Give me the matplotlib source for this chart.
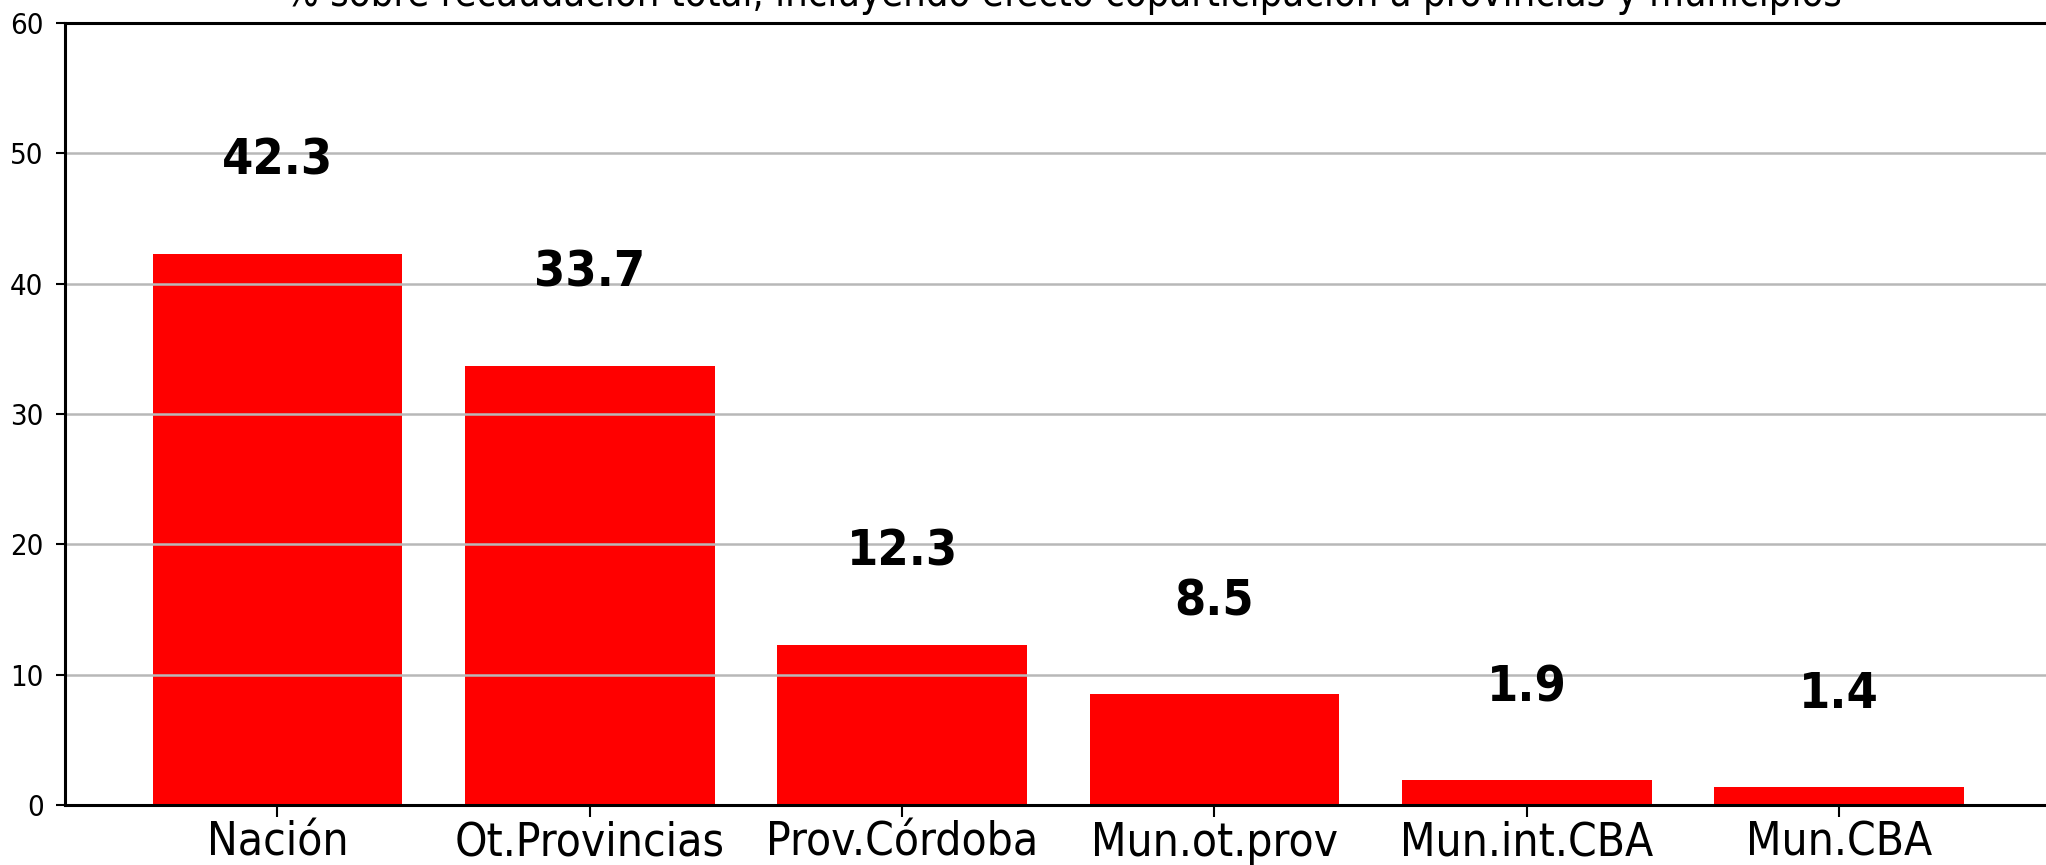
#!/usr/bin/env python3
"""Distribución de la recaudación por nivel de gobierno."""

import matplotlib
matplotlib.use('Agg')
import matplotlib.pyplot as plt

# =============================================================================
# Data
# =============================================================================
niveles = ['Nación', 'Ot.Provincias', 'Prov.Córdoba', 'Mun.ot.prov',
           'Mun.int.CBA', 'Mun.CBA']
porcentaje = [42.3, 33.7, 12.3, 8.5, 1.9, 1.4]
titulo = ('% sobre recaudación total, incluyendo efecto coparticipación '
          'a provincias y municipios')

# =============================================================================
# Plot settings
# =============================================================================
plt.rcParams.update({
    'font.family': 'DejaVu Sans',
    'font.stretch': 'condensed',
    'axes.linewidth': 2.2,
    'xtick.major.width': 1.5,
    'ytick.major.width': 1.5,
})

fig = plt.figure(figsize=(20.46, 8.65), dpi=100)
ax = fig.add_axes([0.0318, 0.0694, 0.9755, 0.904])

x = range(len(niveles))
ax.bar(x, porcentaje, width=0.8, color='#ff0000')

for i, v in zip(x, porcentaje):
    ax.text(i, v + 5.3, f'{v}', ha='center', va='bottom',
            fontsize=36, fontweight='bold')

ax.set_xticks(list(x))
ax.set_xticklabels(niveles, fontsize=33)
ax.set_ylim(0, 60)
ax.set_xlim(-0.68, 5.71)
ax.tick_params(axis='x', length=8.5, pad=3)
ax.tick_params(axis='y', labelsize=21, length=6.5, pad=9)
ax.yaxis.grid(True, color='#b8b8b8', linewidth=1.8)

ax.set_title(titulo, fontsize=28.5, pad=12)

fig.savefig('out.png', dpi=100)
